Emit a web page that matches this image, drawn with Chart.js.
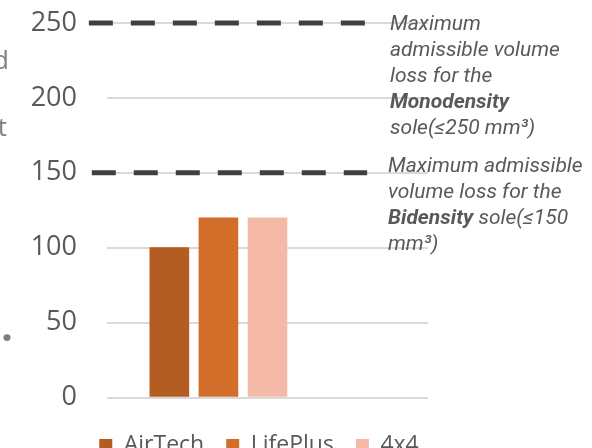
<!DOCTYPE html>
<html>
<head>
<meta charset="utf-8">
<script src="https://cdn.jsdelivr.net/npm/chart.js@4"></script>
<style>
  body { margin: 0; overflow: hidden; background: #fff; }
  #wrap { width: 592px; height: 467px; }
</style>
</head>
<body>
<div id="wrap"><canvas id="myChart"></canvas></div>

<script>
    // Séries (mm³ de perte de volume)
    var categories = ['AirTech', 'LifePlus', '4x4'];
    var positions = [1, 2, 3];
    var values = [100, 120, 120];
    var colors = ['#b35d22', '#d26d2a', '#f4b9a7'];

    // Seuils admissibles
    var limitMono = 250;
    var limitBi = 150;
    var limitMonoSpan = [-0.64, 5.0];
    var limitBiSpan = [-0.58, 5.03];

    var yTicks = [0, 50, 100, 150, 200, 250];

    var ctx = document.getElementById('myChart').getContext('2d');

    var datasets = categories.map(function (name, i) {
        return {
            type: 'bar',
            label: name,
            data: [{ x: positions[i], y: values[i] }],
            backgroundColor: colors[i],
            barThickness: 39,
            grouped: false,
            order: 2
        };
    });

    function limitLine(value, span) {
        return {
            type: 'line',
            label: 'limit' + value,
            data: [{ x: span[0], y: value }, { x: span[1], y: value }],
            borderColor: '#404040',
            borderWidth: 5,
            borderDash: [24, 18],
            borderCapStyle: 'butt',
            pointRadius: 0,
            clip: false,
            order: 1
        };
    }
    datasets.push(limitLine(limitMono, limitMonoSpan));
    datasets.push(limitLine(limitBi, limitBiSpan));

    // Textes des seuils + bouts de texte coupés à gauche
    var notesPlugin = {
        id: 'notes',
        afterDraw: function (chart) {
            var c = chart.ctx;
            c.save();
            c.fillStyle = '#595959';
            c.textBaseline = 'alphabetic';
            c.textAlign = 'left';
            var reg = 'italic 400 21px Roboto';
            var bold = 'italic 700 21px Roboto';

            function line(parts, x, y) {
                parts.forEach(function (p) {
                    c.font = p[1] ? bold : reg;
                    c.fillText(p[0], x, y);
                    x += c.measureText(p[0]).width;
                });
            }
            line([['Maximum']], 390, 30);
            line([['admissible volume']], 390, 56);
            line([['loss for the']], 390, 82);
            line([['Monodensity', true]], 390, 108);
            line([['sole(≤250 mm³)']], 390, 134);

            line([['Maximum admissible']], 388, 172);
            line([['volume loss for the']], 388, 198);
            line([['Bidensity', true], [' sole(≤150']], 388, 224);
            line([['mm³)']], 388, 250);

            c.fillStyle = '#7f7f7f';
            c.textAlign = 'right';
            c.font = '400 26px "Open Sans"';
            c.fillText('d', 9, 69);
            c.fillText('t', 7, 136);
            c.font = '700 42px "Open Sans"';
            c.fillText('.', 13, 341);
            c.restore();
        }
    };

    // Décale la légende pour la centrer sous les barres comme dans l'original
    var legendShift = {
        id: 'legendShift',
        afterLayout: function (chart) {
            chart.legend.left += 45;
            chart.legend.right += 45;
        }
    };

    var myChart = new Chart(ctx, {
        type: 'bar',
        data: { datasets: datasets },
        options: {
            responsive: true,
            maintainAspectRatio: false,
            animation: false,
            layout: { padding: { top: 23, right: 164, left: 0, bottom: 0 } },
            plugins: {
                tooltip: { enabled: false },
                legend: {
                    position: 'bottom',
                    labels: {
                        filter: function (item) { return item.datasetIndex < 3; },
                        boxWidth: 13,
                        boxHeight: 13,
                        padding: 22,
                        color: '#595959',
                        font: { family: 'Open Sans', size: 23 }
                    }
                }
            },
            scales: {
                x: {
                    type: 'linear',
                    offset: false,
                    min: -0.27,
                    max: 6.27,
                    ticks: { display: false },
                    grid: { display: true, color: 'rgba(0,0,0,0)', drawTicks: true, tickLength: 14.5 },
                    border: { display: false }
                },
                y: {
                    min: 0,
                    max: 250,
                    afterBuildTicks: function (s) { s.ticks = yTicks.map(function (v) { return { value: v }; }); },
                    afterFit: function (s) { s.width = 107; s.paddingTop = 0; s.paddingBottom = 0; },
                    ticks: {
                        padding: 30,
                        color: '#595959',
                        font: { family: 'Open Sans', size: 27 }
                    },
                    grid: { color: '#d9d9d9', lineWidth: 2, drawTicks: false },
                    border: { display: false }
                }
            }
        },
        plugins: [notesPlugin, legendShift]
    });
</script>
</body>
</html>
